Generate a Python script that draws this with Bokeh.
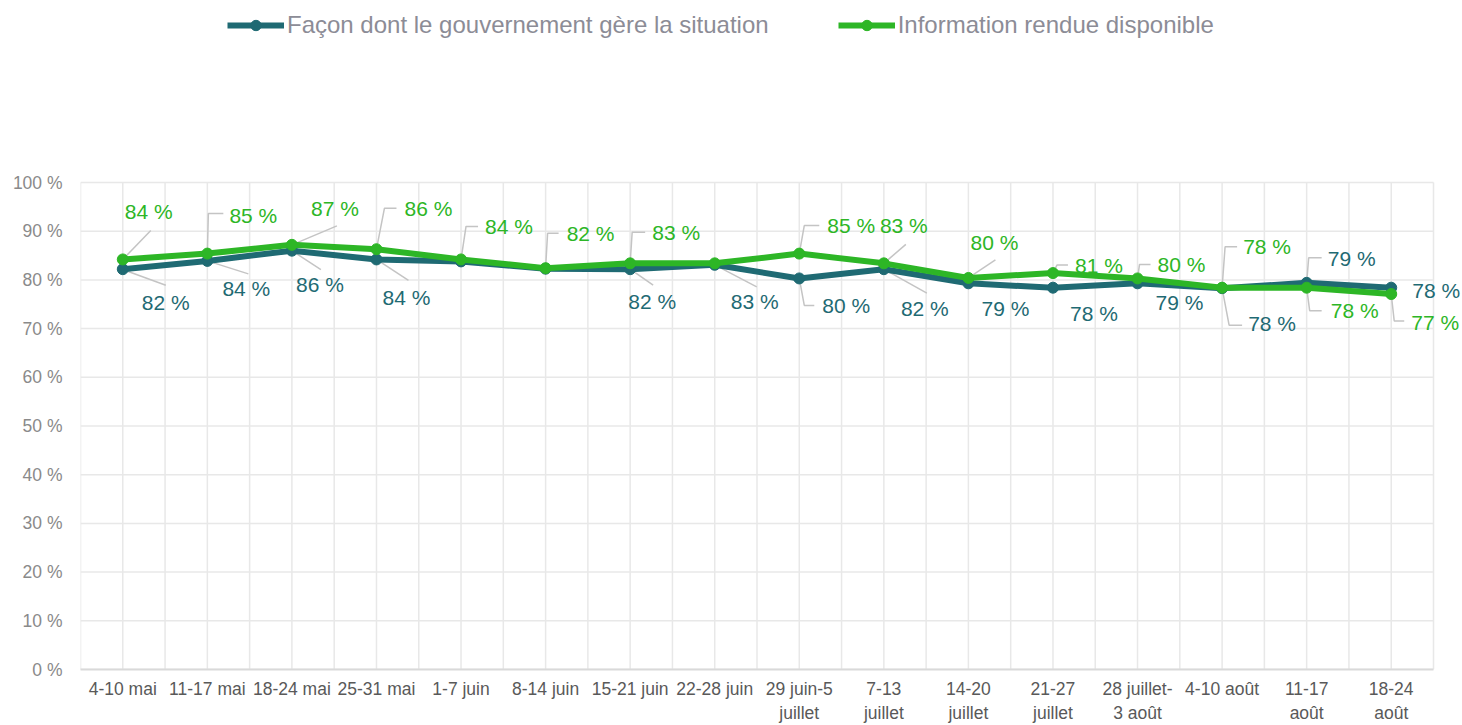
from bokeh.plotting import figure
from bokeh.models import (ColumnDataSource, LabelSet, Legend, LegendItem,
                          FixedTicker, PrintfTickFormatter, Range1d)
from bokeh.core.properties import value
from bokeh.embed import file_html
from bokeh.resources import INLINE

# ---------------- data ----------------
categories = ["4-10 mai", "11-17 mai", "18-24 mai", "25-31 mai", "1-7 juin",
              "8-14 juin", "15-21 juin", "22-28 juin", "29 juin-5\njuillet",
              "7-13\njuillet", "14-20\njuillet", "21-27\njuillet",
              "28 juillet-\n3 août", "4-10 août", "11-17\naoût", "18-24\naoût"]
gouvernement = [82.2, 83.9, 86.0, 84.2, 83.8, 82.3, 82.2, 83.1, 80.3, 82.2,
                79.3, 78.4, 79.3, 78.3, 79.4, 78.4]
information = [84.2, 85.4, 87.2, 86.3, 84.2, 82.4, 83.4, 83.4, 85.4, 83.4,
               80.4, 81.4, 80.3, 78.4, 78.4, 77.1]
series_names = ["Façon dont le gouvernement gère la situation",
                "Information rendue disponible"]
y_ticks = [0, 10, 20, 30, 40, 50, 60, 70, 80, 90, 100]

# ---------------- layout / style ----------------
DARK = "#1f6a73"
GREEN = "#2db626"
LEADER = "#c4c4c4"
GRID = "#e8e8e8"
FONT = "Liberation Sans"
W, H = 1462, 725
LEFT, BOTTOM = 80, 56
PLOT_TOP = 182                      # pixel row of the 100 % line
FH = H - BOTTOM                     # frame spans the whole height (room for legend)
FW = W - LEFT
n = len(categories)
PX_X = 1353 / n                     # pixels per category
X_END = n - 0.5 + (FW - 1353) / PX_X  # extra room on the right for labels
PX_Y = (FH - PLOT_TOP) / 100.0
Y_END = FH / PX_Y

# label placement in pixels relative to each point: (dx, dy_down), None = hidden
dark_lab = [(43, 33), (39, 28), (28, 34), (30, 38), None, None, (22, 32), (40, 37),
            (47, 27), (41, 39), (37, 25), (41, 26), (42, 19), (50, 35), (45, -24), (45, 3)]
dark_lead = [[(2, 1), (43, 16)], [(0, 0), (41, 13)], [(0, 0), (29, 19)], [(0, 0), (32, 21)],
             None, None, [(0, 0), (23, 16)], [(0, 0), (42, 22)],
             [(0, 0), (5, 27), (15, 27)], [(0, 0), (43, 24)], None, None, None,
             [(0, 0), (7, 37), (20, 37)], [(0, 0), (2, -25), (15, -25)], None]
green_lab = [(26, -48), (46, -38), (43, -36), (52, -41), (48, -33), (45, -35), (46, -31), None,
             (52, -28), (20, -38), (26, -35), (46, -8), (44, -14), (45, -41), (48, 23), (44, 28)]
green_lead = [[(0, 0), (28, -29)], [(0, 0), (1, -40), (16, -40)], [(0, 0), (45, -19)],
              [(0, 0), (8, -41), (20, -41)], [(0, 0), (5, -33), (17, -33)],
              [(0, 0), (2, -35), (13, -35)], [(0, 0), (2, -31), (15, -31)], None,
              [(0, 0), (5, -28), (20, -28)], [(0, 0), (22, -19)], [(0, 0), (27, -18)],
              [(0, 0), (4, -8), (15, -8)], [(0, 0), (2, -14), (13, -14)],
              [(0, 0), (3, -41), (15, -41)], [(0, 0), (3, 23), (15, 23)],
              [(0, 0), (3, 27), (13, 27)]]

xs = list(range(n))

p = figure(width=W, height=H, output_backend="svg", toolbar_location=None,
           x_range=Range1d(-0.5, X_END), y_range=Range1d(0, Y_END),
           min_border_left=LEFT, min_border_top=0, min_border_right=0,
           min_border_bottom=BOTTOM)
p.outline_line_color = None
p.background_fill_color = "white"
p.border_fill_color = "white"

# axes
p.xaxis.ticker = FixedTicker(ticks=xs)
p.xaxis.bounds = (-0.5, n - 0.5)
p.xaxis.major_label_overrides = {i: c for i, c in enumerate(categories)}
p.xaxis.major_label_text_font = FONT
p.xaxis.major_label_text_font_size = "17.5px"
p.xaxis.major_label_text_color = "#595959"
p.xaxis.major_label_standoff = 3
p.xaxis.major_tick_line_color = None
p.xaxis.minor_tick_line_color = None
p.xaxis.axis_line_color = "#d9d9d9"
p.xaxis.axis_line_width = 2

p.yaxis.ticker = FixedTicker(ticks=y_ticks)
p.yaxis.bounds = (0, 100)
p.yaxis.formatter = PrintfTickFormatter(format="%d %%")
p.yaxis.major_label_text_font = FONT
p.yaxis.major_label_text_font_size = "17.5px"
p.yaxis.major_label_text_color = "#8a8a8a"
p.yaxis.major_label_standoff = 12
p.yaxis.major_tick_line_color = None
p.yaxis.minor_tick_line_color = None
p.yaxis.axis_line_color = None

# grids (drawn only over the 0-100 % plot area)
p.xgrid.grid_line_color = None
p.ygrid.grid_line_color = None
vgrid = [i * 0.5 - 0.5 for i in range(2 * n + 1)]
p.segment(x0=vgrid, x1=vgrid, y0=[0] * len(vgrid), y1=[100] * len(vgrid),
          line_color=GRID, line_width=1.5)
p.segment(x0=[-0.5] * len(y_ticks), x1=[n - 0.5] * len(y_ticks), y0=y_ticks, y1=y_ticks,
          line_color=GRID, line_width=1.5)


def leaders(values, leads):
    lx, ly = [], []
    for i, (v, ld) in enumerate(zip(values, leads)):
        if ld is None:
            continue
        lx.append([i + dx / PX_X for dx, dy in ld])
        ly.append([v - dy / PX_Y for dx, dy in ld])
    return lx, ly


for vals, leads in ((gouvernement, dark_lead), (information, green_lead)):
    lx, ly = leaders(vals, leads)
    p.multi_line(lx, ly, line_color=LEADER, line_width=1.5)

l1 = p.line(xs, gouvernement, line_color=DARK, line_width=6)
s1 = p.scatter(xs, gouvernement, size=11, fill_color=DARK, line_color=DARK)
l2 = p.line(xs, information, line_color=GREEN, line_width=6)
s2 = p.scatter(xs, information, size=11, fill_color=GREEN, line_color=GREEN)


def label_source(values, labs):
    d = dict(x=[], y=[], text=[], xo=[], yo=[])
    for i, (v, lb) in enumerate(zip(values, labs)):
        if lb is None:
            continue
        d["x"].append(i)
        d["y"].append(v)
        d["text"].append(f"{round(v)} %")
        d["xo"].append(lb[0])
        d["yo"].append(-lb[1])
    return ColumnDataSource(d)


for vals, labs, col in ((gouvernement, dark_lab, DARK), (information, green_lab, GREEN)):
    p.add_layout(LabelSet(x="x", y="y", text="text", x_offset="xo", y_offset="yo",
                          source=label_source(vals, labs), text_align="center",
                          text_baseline="middle", text_font=value(FONT),
                          text_font_size=value("21px"), text_color=col))

legend = Legend(items=[LegendItem(label=series_names[0], renderers=[l1, s1]),
                       LegendItem(label=series_names[1], renderers=[l2, s2])],
                orientation="horizontal", location=(147, 630), padding=0, margin=0,
                spacing=69, label_standoff=3, glyph_width=57, glyph_height=26,
                label_text_font=FONT, label_text_font_size="24px",
                label_text_color="#8c8c96", border_line_color=None,
                background_fill_alpha=0)
p.add_layout(legend)

open("out.html", "w").write(file_html(p, INLINE))
